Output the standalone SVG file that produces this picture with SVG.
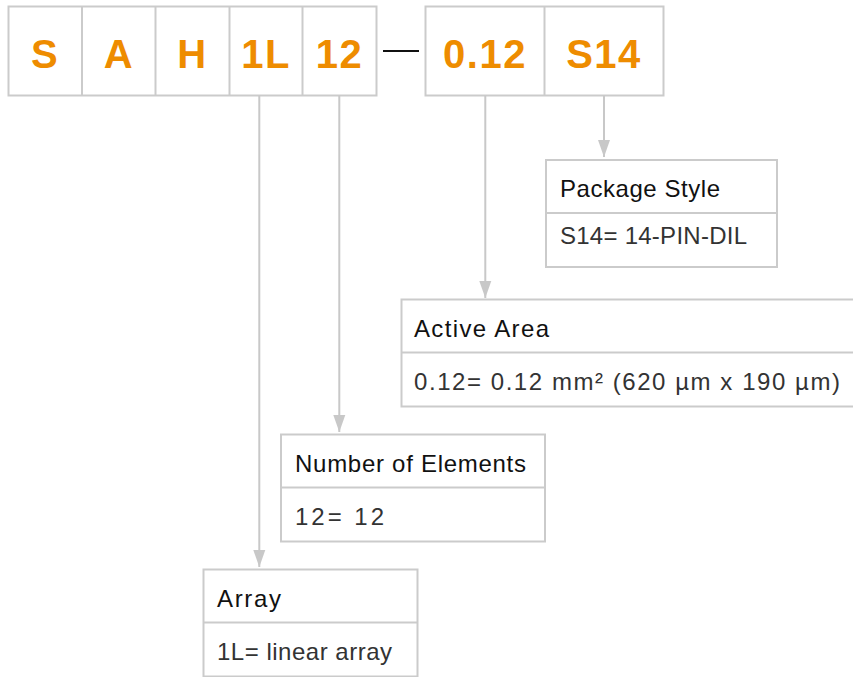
<svg xmlns="http://www.w3.org/2000/svg" width="853" height="677" viewBox="0 0 853 677">
<style>
.box{fill:#fff;stroke:#cbcbcb;stroke-width:2}
.div{stroke:#cbcbcb;stroke-width:2}
.code{font-family:"Liberation Sans",Arial,sans-serif;font-weight:bold;font-size:40px;fill:#EE8C00;text-anchor:middle;letter-spacing:1.5px}
.hd{font-family:"Liberation Sans",Arial,sans-serif;font-size:24px;fill:#111}
.val{font-family:"Liberation Sans",Arial,sans-serif;font-size:24px;fill:#333}
.con{stroke:#c8c8c8;stroke-width:2;fill:none}
</style>
<defs>
<marker id="arr" markerUnits="userSpaceOnUse" markerWidth="18" markerHeight="14" viewBox="0 0 18 14" refX="17" refY="7" orient="auto">
<path d="M0,1 L17,7 L0,13 Z" fill="#c8c8c8"/>
</marker>
</defs>
<g id="code">
<rect class="box" x="8.5" y="6.5" width="368" height="89"/>
<line class="div" x1="82" y1="6.5" x2="82" y2="95.5"/>
<line class="div" x1="155.5" y1="6.5" x2="155.5" y2="95.5"/>
<line class="div" x1="229.5" y1="6.5" x2="229.5" y2="95.5"/>
<line class="div" x1="302.5" y1="6.5" x2="302.5" y2="95.5"/>
<rect class="box" x="425.5" y="6.5" width="238" height="89"/>
<line class="div" x1="544.5" y1="6.5" x2="544.5" y2="95.5"/>
<line x1="383" y1="51" x2="419" y2="51" stroke="#111" stroke-width="2"/>
<text class="code" x="45" y="67.5">S</text>
<text class="code" x="119" y="67.5">A</text>
<text class="code" x="192.5" y="67.5">H</text>
<text class="code" x="266" y="67.5">1L</text>
<text class="code" x="339.5" y="67.5">12</text>
<text class="code" x="485" y="67.5">0.12</text>
<text class="code" x="604" y="67.5">S14</text>
</g>
<g id="connectors">
<line class="con" x1="604" y1="95.5" x2="604" y2="157" marker-end="url(#arr)"/>
<line class="con" x1="485.3" y1="95.5" x2="485.3" y2="298" marker-end="url(#arr)"/>
<line class="con" x1="339.3" y1="95.5" x2="339.3" y2="432" marker-end="url(#arr)"/>
<line class="con" x1="259.3" y1="95.5" x2="259.3" y2="567" marker-end="url(#arr)"/>
</g>
<g id="package-style">
<rect class="box" x="546" y="160" width="231" height="107"/>
<line class="div" x1="546" y1="213" x2="777" y2="213"/>
<text class="hd" x="560" y="197" textLength="160" lengthAdjust="spacing">Package Style</text>
<text class="val" x="560" y="244" textLength="187" lengthAdjust="spacing">S14= 14-PIN-DIL</text>
</g>
<g id="active-area">
<rect class="box" x="401.5" y="299.5" width="460" height="107"/>
<line class="div" x1="401.5" y1="352.5" x2="861" y2="352.5"/>
<text class="hd" x="414" y="337" textLength="135" lengthAdjust="spacing">Active Area</text>
<text class="val" x="414" y="390" textLength="426" lengthAdjust="spacing">0.12= 0.12 mm² (620 µm x 190 µm)</text>
</g>
<g id="number-of-elements">
<rect class="box" x="281" y="434.5" width="264" height="107"/>
<line class="div" x1="281" y1="487.5" x2="545" y2="487.5"/>
<text class="hd" x="295" y="472" textLength="231" lengthAdjust="spacing">Number of Elements</text>
<text class="val" x="295" y="525" textLength="89" lengthAdjust="spacing">12= 12</text>
</g>
<g id="array">
<rect class="box" x="203.5" y="569.5" width="214" height="107"/>
<line class="div" x1="203.5" y1="622.5" x2="417.5" y2="622.5"/>
<text class="hd" x="217" y="607" textLength="64" lengthAdjust="spacing">Array</text>
<text class="val" x="217" y="660" textLength="175" lengthAdjust="spacing">1L= linear array</text>
</g>
</svg>
